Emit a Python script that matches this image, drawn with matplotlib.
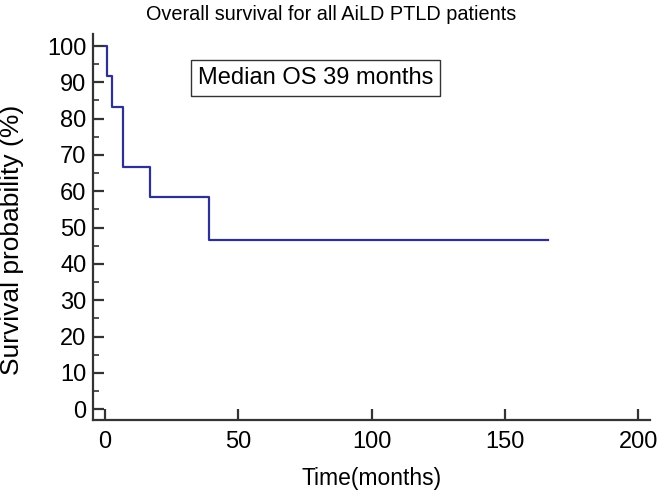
import matplotlib
matplotlib.use("Agg")
import matplotlib.pyplot as plt
from matplotlib.ticker import MultipleLocator

plt.rcParams['font.family'] = ['Liberation Sans', 'DejaVu Sans']

# Kaplan-Meier step data (time in months, survival %)
times = [0, 0.6, 2.7, 6.9, 16.9, 39, 166]
survival = [100, 91.7, 83.3, 66.7, 58.3, 46.7, 46.7]

x_ticks = [0, 50, 100, 150, 200]
y_ticks = list(range(0, 101, 10))

fig = plt.figure(figsize=(6.59, 4.93), dpi=100)
ax = fig.add_axes([0.1416, 0.148, 0.8447, 0.783])

ax.step(times, survival, where='post', color='#2E3192', linewidth=1.6)

ax.set_xlim(-4.4, 204.4)
ax.set_ylim(-3, 103.3)
ax.set_xticks(x_ticks)
ax.set_yticks(y_ticks)
ax.yaxis.set_minor_locator(MultipleLocator(5))

for s in ['top', 'right']:
    ax.spines[s].set_visible(False)
for s in ['left', 'bottom']:
    ax.spines[s].set_linewidth(1.6)
    ax.spines[s].set_color('#333333')

ax.tick_params(axis='both', which='major', direction='in', length=8, width=1.6,
               color='#333333', labelsize=17)
ax.tick_params(axis='x', which='major', pad=8)
ax.tick_params(axis='y', which='major', pad=5)
ax.tick_params(axis='y', which='minor', direction='in', length=4, width=1.2,
               color='#333333')

# axis labels placed in figure pixels
fig.text(372 / 659, 1 - 478 / 493, 'Time(months)', ha='center', va='center',
         fontsize=16.5)
fig.text(12 / 659, 1 - 240 / 493, 'Survival probability (%)', ha='center',
         va='center', rotation=90, fontsize=19)
fig.text(331 / 659, 1 - 14 / 493, 'Overall survival for all AiLD PTLD patients',
         ha='center', va='center', fontsize=14.3)

ax.text(0.188, 0.886, 'Median OS 39 months', transform=ax.transAxes, fontsize=17,
        ha='left', va='center',
        bbox=dict(boxstyle='square,pad=0.3', facecolor='white', edgecolor='#333333',
                  linewidth=1.0))

fig.savefig('out.png', dpi=100)
